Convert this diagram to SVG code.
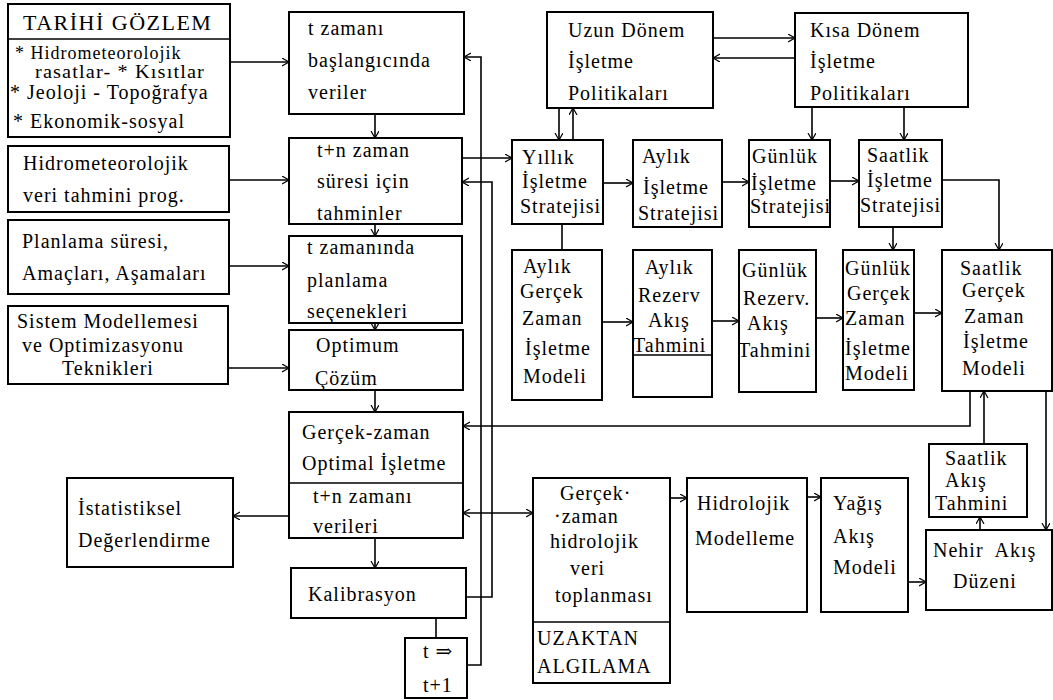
<svg xmlns="http://www.w3.org/2000/svg" width="1053" height="700" viewBox="0 0 1053 700" font-family="Liberation Serif, Times New Roman, DejaVu Serif, serif">
<style>
.b{fill:#fff;stroke:#000;stroke-width:2}
.c{fill:none;stroke:#000;stroke-width:1.6}
text{font-size:20px;letter-spacing:1px;fill:#000}
.t{font-size:22px;letter-spacing:1.5px}
.sm{font-size:18px}
</style>
<defs>
<marker id="a" markerUnits="userSpaceOnUse" markerWidth="10" markerHeight="10" refX="7" refY="4" orient="auto"><path d="M0,0 L7,4 L0,8" fill="none" stroke="#000" stroke-width="1.2"/></marker>
<marker id="s" markerUnits="userSpaceOnUse" markerWidth="10" markerHeight="10" refX="0" refY="4" orient="auto"><path d="M7,0 L0,4 L7,8" fill="none" stroke="#000" stroke-width="1.2"/></marker>
</defs>
<rect width="1053" height="700" fill="#fff"/>
<g id="connectors">
<path class="c" d="M230,62 H289" marker-end="url(#a)"/>
<path class="c" d="M229,180 H289" marker-end="url(#a)"/>
<path class="c" d="M229,266 H289" marker-end="url(#a)"/>
<path class="c" d="M228,368 H289" marker-end="url(#a)"/>
<path class="c" d="M375,114 V138" marker-end="url(#a)"/>
<path class="c" d="M375,224 V236" marker-end="url(#a)"/>
<path class="c" d="M375,323 V330" marker-end="url(#a)"/>
<path class="c" d="M375,390 V412" marker-end="url(#a)"/>
<path class="c" d="M375,538 V568" marker-end="url(#a)"/>
<path class="c" d="M289,516 H233" marker-end="url(#a)"/>
<path class="c" d="M436,618 V638"/>
<path class="c" d="M467,665 H481 V57 H464" marker-end="url(#a)"/>
<path class="c" d="M466,597 H492 V182 H462" marker-end="url(#a)"/>
<path class="c" d="M462,158 H512" marker-end="url(#a)"/>
<path class="c" d="M559,108 V140" marker-end="url(#a)"/>
<path class="c" d="M573,140 V108" marker-end="url(#a)"/>
<path class="c" d="M713,38 H795" marker-end="url(#a)"/>
<path class="c" d="M795,58 H713" marker-end="url(#a)"/>
<path class="c" d="M812,107 V140" marker-end="url(#a)"/>
<path class="c" d="M904,107 V140" marker-end="url(#a)"/>
<path class="c" d="M603,183 H633" marker-end="url(#a)"/>
<path class="c" d="M722,182 H749" marker-end="url(#a)"/>
<path class="c" d="M830,181 H859" marker-end="url(#a)"/>
<path class="c" d="M942,180 H999 V250" marker-end="url(#a)"/>
<path class="c" d="M893,227 V250" marker-end="url(#a)"/>
<path class="c" d="M562,224 V250"/>
<path class="c" d="M602,322 H633" marker-end="url(#a)"/>
<path class="c" d="M712,321 H739" marker-end="url(#a)"/>
<path class="c" d="M816,318 H843" marker-end="url(#a)"/>
<path class="c" d="M914,313 H942" marker-end="url(#a)"/>
<path class="c" d="M970,391 V426 H463" marker-end="url(#a)"/>
<path class="c" d="M984,444 V391" marker-end="url(#a)"/>
<path class="c" d="M1046,391 V530" marker-end="url(#a)"/>
<path class="c" d="M980,530 V517" marker-end="url(#a)"/>
<path class="c" d="M908,582 H926" marker-end="url(#a)"/>
<path class="c" d="M807,497 H821" marker-end="url(#a)"/>
<path class="c" d="M670,498 H687" marker-end="url(#a)"/>
<path class="c" d="M463,513 H533" marker-start="url(#s)" marker-end="url(#a)"/>
</g>
<g id="tarihi">
<rect class="b" x="8" y="4" width="222" height="133"/>
<line class="c" x1="8" y1="39" x2="230" y2="39" stroke-width="2"/>
<text class="t" x="23" y="30">TARİHİ GÖZLEM</text>
<text class="sm" x="15" y="59">* Hidrometeorolojik</text>
<text class="sm" x="35" y="78" textLength="170" lengthAdjust="spacingAndGlyphs">rasatlar- * Kısıtlar</text>
<text x="10" y="99">* Jeoloji - Topoğrafya</text>
<text x="13" y="128">* Ekonomik-sosyal</text>
</g>
<g id="hidroveri">
<rect class="b" x="8" y="146" width="221" height="66"/>
<text x="23" y="170">Hidrometeorolojik</text>
<text x="23" y="202">veri tahmini prog.</text>
</g>
<g id="planlama">
<rect class="b" x="8" y="220" width="221" height="74"/>
<text x="22" y="248">Planlama süresi,</text>
<text x="22" y="280">Amaçları, Aşamaları</text>
</g>
<g id="sistem">
<rect class="b" x="8" y="306" width="220" height="78"/>
<text x="17" y="328">Sistem Modellemesi</text>
<text x="22" y="352">ve Optimizasyonu</text>
<text x="62" y="375">Teknikleri</text>
</g>
<g id="istatistik">
<rect class="b" x="67" y="478" width="166" height="89"/>
<text x="78" y="515">İstatistiksel</text>
<text x="78" y="547">Değerlendirme</text>
</g>
<g id="baslangic">
<rect class="b" x="289" y="12" width="175" height="102"/>
<text x="308" y="35">t zamanı</text>
<text x="308" y="67">başlangıcında</text>
<text x="308" y="99">veriler</text>
</g>
<g id="tahminler">
<rect class="b" x="289" y="138" width="173" height="86"/>
<text x="317" y="157">t+n zaman</text>
<text x="317" y="188">süresi için</text>
<text x="317" y="220">tahminler</text>
</g>
<g id="planlamasec">
<rect class="b" x="289" y="236" width="173" height="87"/>
<text x="307" y="254">t zamanında</text>
<text x="307" y="287">planlama</text>
<text x="307" y="318">seçenekleri</text>
</g>
<g id="optimum">
<rect class="b" x="289" y="330" width="174" height="60"/>
<text x="316" y="352">Optimum</text>
<text x="315" y="385">Çözüm</text>
</g>
<g id="gercekzaman">
<rect class="b" x="289" y="412" width="174" height="126"/>
<line class="c" x1="289" y1="483" x2="463" y2="483" stroke-width="2"/>
<text x="302" y="439">Gerçek-zaman</text>
<text x="302" y="470">Optimal İşletme</text>
<text x="313" y="503">t+n zamanı</text>
<text x="313" y="533">verileri</text>
</g>
<g id="kalibrasyon">
<rect class="b" x="291" y="568" width="175" height="50"/>
<text x="308" y="601">Kalibrasyon</text>
</g>
<g id="tt1">
<rect class="b" x="405" y="638" width="62" height="60"/>
<text x="423" y="658">t ⇒</text>
<text x="423" y="692">t+1</text>
</g>
<g id="uzun">
<rect class="b" x="547" y="12" width="166" height="96"/>
<text x="568" y="37">Uzun Dönem</text>
<text x="568" y="68">İşletme</text>
<text x="568" y="100">Politikaları</text>
</g>
<g id="kisa">
<rect class="b" x="795" y="13" width="173" height="94"/>
<text x="810" y="37">Kısa Dönem</text>
<text x="810" y="68">İşletme</text>
<text x="810" y="100">Politikaları</text>
</g>
<g id="yillik">
<rect class="b" x="512" y="140" width="91" height="84"/>
<text x="522" y="164">Yıllık</text>
<text x="522" y="188">İşletme</text>
<text x="520" y="213">Stratejisi</text>
</g>
<g id="aylikis">
<rect class="b" x="633" y="140" width="89" height="87"/>
<text x="642" y="163">Aylık</text>
<text x="643" y="194">İşletme</text>
<text x="638" y="220">Stratejisi</text>
</g>
<g id="gunlukis">
<rect class="b" x="749" y="140" width="81" height="87"/>
<text x="752" y="163">Günlük</text>
<text x="751" y="190">İşletme</text>
<text x="750" y="213">Stratejisi</text>
</g>
<g id="saatlikis">
<rect class="b" x="859" y="140" width="83" height="87"/>
<text x="867" y="162">Saatlik</text>
<text x="867" y="187">İşletme</text>
<text x="860" y="212">Stratejisi</text>
</g>
<g id="aylikgz">
<rect class="b" x="512" y="250" width="90" height="150"/>
<text x="523" y="273">Aylık</text>
<text x="520" y="298">Gerçek</text>
<text x="522" y="325">Zaman</text>
<text x="525" y="355">İşletme</text>
<text x="523" y="383">Modeli</text>
</g>
<g id="aylikrez">
<rect class="b" x="633" y="250" width="79" height="147"/>
<line class="c" x1="633" y1="355" x2="712" y2="355"/>
<text x="645" y="274">Aylık</text>
<text x="638" y="302">Rezerv</text>
<text x="648" y="327">Akış</text>
<text x="633" y="352">Tahmini</text>
</g>
<g id="gunlukrez">
<rect class="b" x="739" y="250" width="77" height="142"/>
<text x="742" y="277">Günlük</text>
<text x="743" y="305">Rezerv.</text>
<text x="747" y="330">Akış</text>
<text x="738" y="357">Tahmini</text>
</g>
<g id="gunlukgz">
<rect class="b" x="843" y="250" width="71" height="140"/>
<text x="845" y="275">Günlük</text>
<text x="847" y="300">Gerçek</text>
<text x="845" y="325">Zaman</text>
<text x="845" y="355">İşletme</text>
<text x="845" y="380">Modeli</text>
</g>
<g id="saatlikgz">
<rect class="b" x="942" y="250" width="110" height="141"/>
<text x="960" y="275">Saatlik</text>
<text x="962" y="297">Gerçek</text>
<text x="964" y="323">Zaman</text>
<text x="963" y="348">İşletme</text>
<text x="962" y="375">Modeli</text>
</g>
<g id="gercekhidro">
<rect class="b" x="533" y="478" width="137" height="205"/>
<line class="c" x1="533" y1="622" x2="670" y2="622" stroke-width="2"/>
<text x="560" y="500">Gerçek·</text>
<text x="554" y="523">·zaman</text>
<text x="550" y="548">hidrolojik</text>
<text x="570" y="575">veri</text>
<text x="555" y="602">toplanması</text>
<text x="537" y="645">UZAKTAN</text>
<text x="537" y="673">ALGILAMA</text>
</g>
<g id="hidrolojik">
<rect class="b" x="687" y="478" width="120" height="134"/>
<text x="697" y="510">Hidrolojik</text>
<text x="695" y="545">Modelleme</text>
</g>
<g id="yagis">
<rect class="b" x="821" y="478" width="87" height="134"/>
<text x="833" y="510">Yağış</text>
<text x="833" y="543">Akış</text>
<text x="833" y="574">Modeli</text>
</g>
<g id="saatlikakis">
<rect class="b" x="929" y="444" width="98" height="73"/>
<text x="945" y="465">Saatlik</text>
<text x="945" y="487">Akış</text>
<text x="935" y="510">Tahmini</text>
</g>
<g id="nehir">
<rect class="b" x="926" y="530" width="126" height="80"/>
<text x="933" y="557" xml:space="preserve">Nehir  Akış</text>
<text x="953" y="588">Düzeni</text>
</g>
</svg>
